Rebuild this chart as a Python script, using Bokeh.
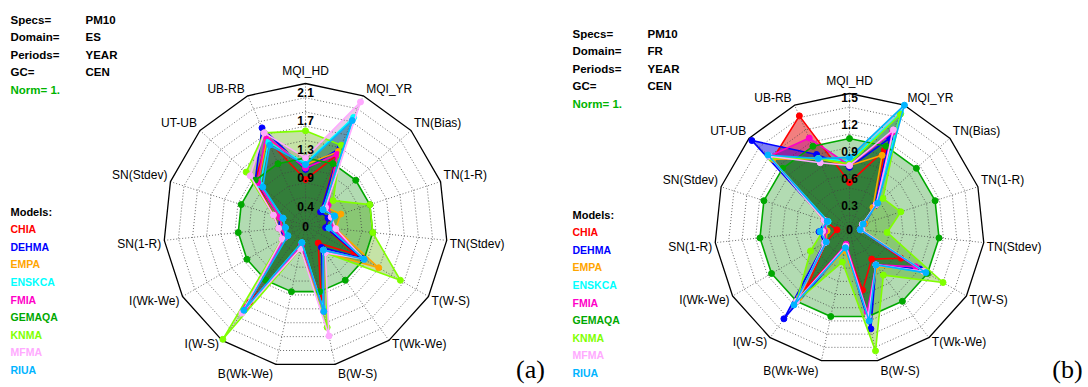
import numpy as np
from bokeh.plotting import figure
from bokeh.models import Range1d
from bokeh.embed import file_html
from bokeh.resources import INLINE
from bokeh.core.properties import value

# ---------------- data ----------------
axis_labels = ["MQI_HD", "MQI_YR", "TN(Bias)", "TN(1-R)", "TN(Stdev)", "T(W-S)",
               "T(Wk-We)", "B(W-S)", "B(Wk-We)", "I(W-S)", "I(Wk-We)", "SN(1-R)",
               "SN(Stdev)", "UT-UB", "UB-RB"]
models = ["CHIA", "DEHMA", "EMPA", "ENSKCA", "FMIA", "GEMAQA", "KNMA", "MFMA", "RIUA"]

meta_keys = ["Specs=", "Domain=", "Periods=", "GC="]
es_meta = ["PM10", "ES", "YEAR", "CEN"]
fr_meta = ["PM10", "FR", "YEAR", "CEN"]
norm_text = "Norm= 1."
legend_title = "Models:"

es_max = 2.1
es_ticks = ["0", "0.4", "0.9", "1.3", "1.7", "2.1"]
fr_max = 1.5
fr_ticks = ["0", "0.3", "0.6", "0.9", "1.2", "1.5"]

# panel (a) ES : values per axis (order of axis_labels)
es_chia   = [0.68, 1.14, 0.30, 0.35, 0.30, 0.84, 0.32, 1.10, 0.30, 1.40, 0.35, 0.40, 0.50, 1.00, 1.39]
es_dehma  = [0.83, 1.25, 0.30, 0.35, 0.30, 0.98, 0.40, 1.30, 0.30, 1.50, 0.35, 0.40, 0.40, 1.00, 1.58]
es_empa   = [0.90, 1.20, 0.40, 0.55, 0.45, 1.25, 0.50, 1.30, 0.35, 1.50, 0.35, 0.35, 0.40, 0.95, 1.40]
es_enskca = [0.92, 1.75, 0.35, 0.45, 0.35, 1.00, 0.45, 1.25, 0.26, 1.55, 0.35, 0.30, 0.35, 0.90, 1.35]
es_fmia   = [0.85, 1.15, 0.45, 0.40, 0.40, 1.00, 0.45, 1.30, 0.30, 1.50, 0.35, 0.35, 0.40, 0.95, 1.45]
es_gemaqa = [1.00, 1.00, 1.00, 1.00, 1.00, 1.00, 1.00, 1.00, 1.00, 1.00, 1.00, 1.00, 1.00, 1.00, 1.00]
es_knma   = [1.40, 1.30, 0.55, 1.00, 1.00, 1.62, 0.50, 1.54, 0.35, 2.08, 0.40, 0.40, 0.50, 1.18, 1.50]
es_mfma   = [1.00, 2.00, 0.40, 0.40, 0.45, 1.00, 0.50, 1.67, 0.35, 1.60, 0.40, 0.40, 0.50, 1.10, 1.50]
es_riua   = [0.90, 1.70, 0.35, 0.45, 0.35, 1.00, 0.45, 1.30, 0.26, 1.55, 0.30, 0.30, 0.35, 0.85, 1.30]

# panel (b) FR
fr_chia   = [0.51, 0.95, 0.40, 0.15, 0.14, 0.66, 0.42, 0.70, 0.20, 0.80, 0.30, 0.14, 0.30, 1.15, 1.37]
fr_dehma  = [0.68, 1.10, 0.38, 0.18, 0.12, 0.90, 0.50, 1.14, 0.22, 1.24, 0.32, 0.34, 0.28, 1.46, 0.90]
fr_empa   = [0.70, 0.89, 0.35, 0.18, 0.14, 0.95, 0.52, 0.97, 0.25, 0.95, 0.30, 0.25, 0.28, 1.15, 0.85]
fr_enskca = [0.75, 1.40, 0.40, 0.15, 0.12, 0.98, 0.50, 1.00, 0.22, 1.00, 0.30, 0.28, 0.25, 1.20, 0.85]
fr_fmia   = [0.70, 1.17, 0.40, 0.16, 0.12, 0.85, 0.50, 0.95, 0.18, 1.00, 0.30, 0.28, 0.27, 1.20, 1.10]
fr_gemaqa = [1.00, 1.00, 1.00, 1.00, 1.00, 1.00, 1.00, 1.00, 1.00, 1.00, 1.00, 1.00, 1.00, 1.00, 1.00]
fr_knma   = [0.72, 1.39, 0.50, 0.60, 0.42, 1.20, 0.64, 1.39, 0.38, 1.00, 0.50, 0.30, 0.30, 1.17, 0.85]
fr_mfma   = [0.70, 1.20, 0.40, 0.15, 0.14, 0.95, 0.50, 1.00, 0.20, 1.00, 0.32, 0.30, 0.30, 1.20, 0.80]
fr_riua   = [0.79, 1.50, 0.42, 0.16, 0.12, 0.98, 0.50, 1.05, 0.22, 1.05, 0.30, 0.33, 0.26, 1.22, 0.85]

es_values = [es_chia, es_dehma, es_empa, es_enskca, es_fmia, es_gemaqa, es_knma, es_mfma, es_riua]
fr_values = [fr_chia, fr_dehma, fr_empa, fr_enskca, fr_fmia, fr_gemaqa, fr_knma, fr_mfma, fr_riua]

# ---------------- style ----------------
line_colors = ["#ff0000", "#0000ff", "#ffa500", "#00ffff", "#ff00c8",
               "#00a800", "#80ff00", "#ffaaff", "#00b4ff"]
# fill colours / alpha (per model) and the stacking order of the fills
fill_colors = ["#e60000", "#0000e6", "#a06000", "#008282", "#b4008c",
               "#008800", "#58b000", "#c070c0", "#006496"]
fill_alphas = [0.5, 0.5, 0.35, 0.35, 0.4, 0.3, 0.35, 0.35, 0.35]
fill_order = [0, 1, 4, 7, 2, 3, 8, 6, 5]
FONT = value("Liberation Sans")

W, H = 1088, 387
p = figure(width=W, height=H, x_range=Range1d(0, W), y_range=Range1d(H, 0),
           output_backend="svg", toolbar_location=None,
           x_axis_location=None, y_axis_location=None, min_border=0,
           outline_line_color=None, background_fill_color="white")
p.grid.visible = False

n_ax = len(axis_labels)
theta = np.deg2rad(90.0 - 360.0 / n_ax * np.arange(n_ax))


def draw_panel(cx, cy, R, vmax, values, ticks, tick_dy, meta_vals, meta_xy, leg_xy,
               tag, tag_xy):
    cs, sn = np.cos(theta), np.sin(theta)

    def to_xy(v):
        r = np.asarray(v, dtype=float) / vmax * R
        return cx + r * cs, cy - r * sn

    # fills
    for m in fill_order:
        x, y = to_xy(values[m])
        p.patch(list(x), list(y), fill_color=fill_colors[m], fill_alpha=fill_alphas[m],
                line_color=None)

    # dotted rings and spokes
    n_ring = 10
    for k in range(1, n_ring):
        x, y = to_xy(np.full(n_ax, vmax * k / n_ring))
        p.line(list(x) + [x[0]], list(y) + [y[0]], line_color="#444444",
               line_width=0.8, line_dash="1 2")
    xo, yo = to_xy(np.full(n_ax, vmax))
    for i in range(n_ax):
        p.line([cx, xo[i]], [cy, yo[i]], line_color="#444444", line_width=0.8,
               line_dash="1 2")
    p.line(list(xo) + [xo[0]], list(yo) + [yo[0]], line_color="black", line_width=1.3)

    # model outlines + markers
    for vals, lc in zip(values, line_colors):
        x, y = to_xy(vals)
        p.line(list(x) + [x[0]], list(y) + [y[0]], line_color=lc, line_width=1.6)
        p.scatter(list(x), list(y), size=6, marker="circle", fill_color=lc,
                  line_color=lc)

    # tick labels
    tv = np.linspace(0, vmax, len(ticks))
    ty = cy - tv / vmax * R + tick_dy
    ty[0] = cy + 1
    p.text([cx] * len(ticks), list(ty), text=ticks, text_font=FONT,
           text_font_size="12px", text_font_style="bold", text_align="center",
           text_baseline="middle", text_color="black")

    # axis labels
    lx, ly, la = [], [], []
    for i in range(n_ax):
        c, s = cs[i], sn[i]
        if abs(c) < 0.15:
            a, x = "center", xo[i]
        elif c > 0:
            a, x = "left", xo[i] + 3
        else:
            a, x = "right", xo[i] - 3
        if abs(c) < 0.15:
            y = yo[i] - 13
        elif s > 0.15:
            y = yo[i] - 7
        elif s < -0.9:
            y = yo[i] + 10
        else:
            y = yo[i] + 4
        lx.append(x); ly.append(y); la.append(a)
    for a in ("left", "right", "center"):
        idx = [i for i in range(n_ax) if la[i] == a]
        p.text([lx[i] for i in idx], [ly[i] for i in idx],
               text=[axis_labels[i] for i in idx], text_font=FONT,
               text_font_size="12px", text_align=a, text_baseline="middle",
               text_color="black")

    # meta texts
    mx, my = meta_xy
    ys = [my + 17.5 * k for k in range(len(meta_keys))]
    p.text([mx] * len(meta_keys), ys, text=meta_keys, text_font=FONT,
           text_font_size="11.5px", text_font_style="bold", text_baseline="middle")
    p.text([mx + 75] * len(meta_vals), ys, text=meta_vals, text_font=FONT,
           text_font_size="11.5px", text_font_style="bold", text_baseline="middle")
    p.text([mx], [my + 17.5 * len(meta_keys)], text=[norm_text], text_font=FONT,
           text_font_size="11.5px", text_font_style="bold", text_baseline="middle",
           text_color="#00b400")

    # legend
    gx, gy = leg_xy
    p.text([gx], [gy], text=[legend_title], text_font=FONT, text_font_size="11px",
           text_font_style="bold", text_baseline="middle")
    p.text([gx] * len(models), [gy + 17.6 * (k + 1) for k in range(len(models))],
           text=models, text_font=FONT, text_font_size="10.5px",
           text_font_style="bold", text_baseline="middle", text_color=line_colors)

    p.text([tag_xy[0]], [tag_xy[1]], text=[tag], text_font=value("Liberation Serif"),
           text_font_size="26px", text_align="center", text_baseline="middle")


draw_panel(305, 225, 142, es_max, es_values, es_ticks, 9, es_meta, (10, 19), (10, 211),
           "(a)", (530, 369))
draw_panel(849, 228, 135, fr_max, fr_values, fr_ticks, 4, fr_meta, (572, 33), (572, 214),
           "(b)", (1067, 369))

open("out.html", "w").write(file_html(p, INLINE))
